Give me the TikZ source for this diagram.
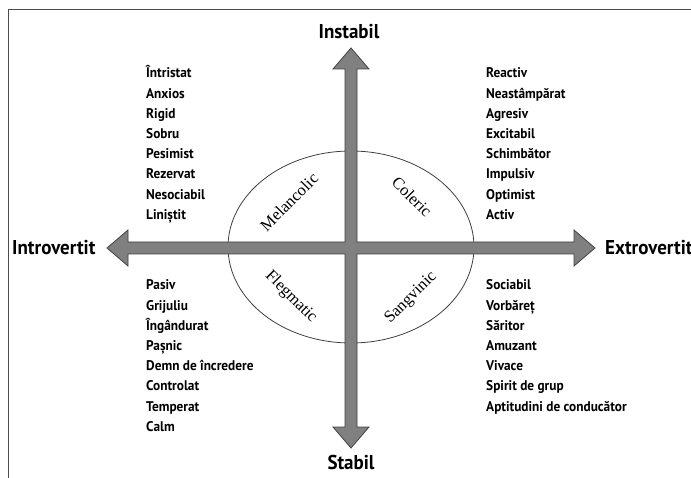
\documentclass[tikz,border=0pt]{standalone}
\usepackage{fontspec}
\setmainfont{Liberation Serif}
\newfontfamily\condfont[FakeStretch=0.95]{PT Sans}
\begin{document}
\begin{tikzpicture}
        [x=1pt, y=-1pt,
        word/.style={anchor=base west, inner sep=0pt, font=\condfont\bfseries\fontsize{14}{16}\selectfont},
        axis/.style={inner sep=0pt, font=\condfont\bfseries\fontsize{20}{22}\selectfont},
        temper/.style={inner sep=0pt, font=\fontsize{16.5}{18}\selectfont},
        cross/.style={fill=black!50, draw=black!75, line width=0.8pt}]
        \useasboundingbox (0,0) rectangle (691,478);
        %Rahmen
        \draw [black!70, line width=1pt] (8,478) -- (8,10) -- (691,10);
        %Temperamente
        \draw [black!75, line width=0.8pt] (351,247) ellipse [x radius=123, y radius=96];
        \node [temper, rotate=45] (melancolic) at (289,202) {Melancolic};
        \node [temper, rotate=-45] (coleric) at (412,197) {Coleric};
        \node [temper, rotate=-45] (flegmatic) at (291,297) {Flegmatic};
        \node [temper, rotate=45] (sangvinic) at (411,298) {Sangvinic};
        %Achsen
        \draw [cross] (351,48) -- (369,69) -- (357,69) -- (357,242) -- (574,242) -- (574,230)
                -- (595,248) -- (574,266) -- (574,254) -- (357,254) -- (357,427) -- (369,427)
                -- (351,448) -- (333,427) -- (345,427) -- (345,254) -- (128,254) -- (128,266)
                -- (107,248) -- (128,230) -- (128,242) -- (345,242) -- (345,69) -- (333,69) -- cycle;
        \node [axis, anchor=base] (instabil) at (349,39) {Instabil};
        \node [axis, anchor=base] (stabil) at (351,469) {Stabil};
        \node [axis, anchor=base west] (introvertit) at (12,255) {Introvertit};
        \node [axis, anchor=base west] (extrovertit) at (605,255) {Extrovertit};
        %Eigenschaften
        \foreach \w [count=\i from 0] in {Întristat, Anxios, Rigid, Sobru, Pesimist, Rezervat, Nesociabil, Liniștit}
                \node [word] (mel\i) at (146,{78+20.2*\i}) {\w};
        \foreach \w [count=\i from 0] in {Reactiv, Neastâmpărat, Agresiv, Excitabil, Schimbător, Impulsiv, Optimist, Activ}
                \node [word] (col\i) at (486,{78+20.2*\i}) {\w};
        \foreach \w [count=\i from 0] in {Pasiv, Grijuliu, Îngândurat, Pașnic, Demn de încredere, Controlat, Temperat, Calm}
                \node [word] (fle\i) at (146,{290+20.2*\i}) {\w};
        \foreach \w [count=\i from 0] in {Sociabil, Vorbăreț, Săritor, Amuzant, Vivace, Spirit de grup, Aptitudini de conducător}
                \node [word] (san\i) at (486,{290+20.2*\i}) {\w};
\end{tikzpicture}
\end{document}
